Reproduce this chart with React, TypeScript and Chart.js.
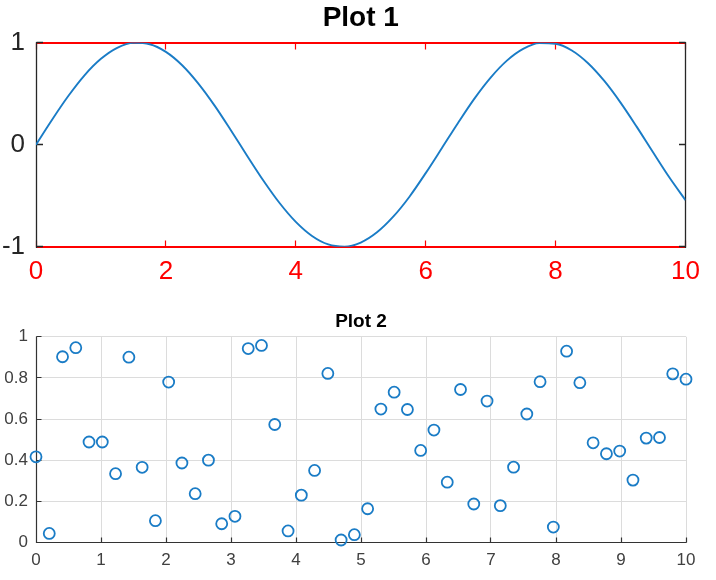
import { useEffect, useRef } from "react";
import { Chart, registerables } from "chart.js";

Chart.register(...registerables);

const FONT = '"Liberation Sans", Arial, Helvetica, sans-serif';

// ---- Plot 1: smooth wave sampled every 0.25 ----
const waveX = [
  0, 0.25, 0.5, 0.75, 1, 1.25, 1.5, 1.75, 2, 2.25, 2.5, 2.75, 3, 3.25, 3.5, 3.75,
  4, 4.25, 4.5, 4.75, 5, 5.25, 5.5, 5.75, 6, 6.25, 6.5, 6.75, 7, 7.25, 7.5, 7.75,
  8, 8.25, 8.5, 8.75, 9, 9.25, 9.5, 9.75, 10,
];
const waveY = [
  0, 0.247, 0.479, 0.682, 0.841, 0.949, 0.997, 0.984, 0.909, 0.778, 0.598, 0.382,
  0.141, -0.108, -0.351, -0.572, -0.757, -0.895, -0.978, -0.999, -0.959, -0.859,
  -0.706, -0.51, -0.279, -0.033, 0.215, 0.451, 0.657, 0.823, 0.938, 0.995, 0.989,
  0.923, 0.798, 0.624, 0.412, 0.174, -0.075, -0.32, -0.544,
];
const plot1XTicks = [0, 2, 4, 6, 8, 10];
const plot1XTickLabels = ["0", "2", "4", "6", "8", "10"];
const plot1YTicks = [-1, 0, 1];
const plot1YTickLabels = ["-1", "0", "1"];

// ---- Plot 2: scattered samples ----
const scatterX = [
  0, 0.204, 0.408, 0.612, 0.816, 1.02, 1.224, 1.429, 1.633, 1.837, 2.041, 2.245,
  2.449, 2.653, 2.857, 3.061, 3.265, 3.469, 3.673, 3.878, 4.082, 4.286, 4.49, 4.694,
  4.898, 5.102, 5.306, 5.51, 5.714, 5.918, 6.122, 6.327, 6.531, 6.735, 6.939, 7.143,
  7.347, 7.551, 7.755, 7.959, 8.163, 8.367, 8.571, 8.776, 8.98, 9.184, 9.388, 9.592,
  9.796, 10,
];
const scatterY = [
  0.417, 0.045, 0.903, 0.947, 0.489, 0.489, 0.335, 0.901, 0.366, 0.107, 0.78, 0.387,
  0.238, 0.401, 0.092, 0.128, 0.943, 0.958, 0.574, 0.057, 0.231, 0.351, 0.822, 0.013,
  0.039, 0.165, 0.649, 0.731, 0.647, 0.448, 0.547, 0.294, 0.744, 0.188, 0.688, 0.18,
  0.367, 0.625, 0.782, 0.076, 0.93, 0.777, 0.485, 0.432, 0.445, 0.304, 0.508, 0.511,
  0.82, 0.794,
];
const plot2XTicks = [0, 1, 2, 3, 4, 5, 6, 7, 8, 9, 10];
const plot2XTickLabels = ["0", "1", "2", "3", "4", "5", "6", "7", "8", "9", "10"];
const plot2YTicks = [0, 0.2, 0.4, 0.6, 0.8, 1];
const plot2YTickLabels = ["0", "0.2", "0.4", "0.6", "0.8", "1"];

const BLUE = "#1a7cc6";
const RED = "#ff0000";
const DARK = "#262626";

const crisp = (v: number) => Math.floor(v) + 0.5;

const fixedTicks = (values: number[]) => (scale: any) => {
  scale.ticks = values.map((value) => ({ value }));
};
const labelFrom = (values: number[], labels: string[]) => (v: any) => {
  const i = values.indexOf(Number(v));
  return i >= 0 ? labels[i] : "";
};

// Boxed frame with inward tick marks (red horizontal edges, dark vertical edges)
const boxFramePlugin = {
  id: "boxFrame",
  beforeDatasetsDraw(chart: any) {
    const { ctx, chartArea: a, scales } = chart;
    const L = crisp(a.left), R = crisp(a.right);
    const T = Math.round(a.top), B = Math.round(a.bottom);
    const len = 6.5;
    ctx.save();
    ctx.lineWidth = 2;
    ctx.strokeStyle = RED;
    ctx.beginPath();
    ctx.moveTo(L, T); ctx.lineTo(R, T);
    ctx.moveTo(L, B); ctx.lineTo(R, B);
    ctx.stroke();
    ctx.lineWidth = 1.2;
    ctx.beginPath();
    plot1XTicks.forEach((v) => {
      const x = crisp(scales.x.getPixelForValue(v));
      ctx.moveTo(x, B); ctx.lineTo(x, B - len);
      ctx.moveTo(x, T); ctx.lineTo(x, T + len);
    });
    ctx.stroke();
    ctx.strokeStyle = DARK;
    ctx.lineWidth = 1.3;
    ctx.beginPath();
    ctx.moveTo(L, T - 1); ctx.lineTo(L, B + 1);
    ctx.moveTo(R, T - 1); ctx.lineTo(R, B + 1);
    plot1YTicks.forEach((v) => {
      const y = crisp(scales.y.getPixelForValue(v));
      ctx.moveTo(L, y); ctx.lineTo(L + len, y);
      ctx.moveTo(R, y); ctx.lineTo(R - len, y);
    });
    ctx.stroke();
    ctx.restore();
  },
};

// Open frame: left and bottom axis lines with inward ticks
const openFramePlugin = {
  id: "openFrame",
  beforeDatasetsDraw(chart: any) {
    const { ctx, chartArea: a, scales } = chart;
    const L = crisp(a.left), R = crisp(a.right), T = crisp(a.top), B = crisp(a.bottom);
    const len = 5;
    ctx.save();
    ctx.lineWidth = 1.2;
    ctx.strokeStyle = "#333333";
    ctx.beginPath();
    ctx.moveTo(L, T); ctx.lineTo(L, B); ctx.lineTo(R, B);
    plot2XTicks.forEach((v) => {
      const x = crisp(scales.x.getPixelForValue(v));
      ctx.moveTo(x, B); ctx.lineTo(x, B - len);
    });
    plot2YTicks.forEach((v) => {
      const y = crisp(scales.y.getPixelForValue(v));
      ctx.moveTo(L, y); ctx.lineTo(L + len, y);
    });
    ctx.stroke();
    ctx.restore();
  },
};

export default function App() {
  const topRef = useRef<HTMLCanvasElement | null>(null);
  const bottomRef = useRef<HTMLCanvasElement | null>(null);

  useEffect(() => {
    if (!topRef.current || !bottomRef.current) return;

    const wave = new Chart(topRef.current, {
      type: "line",
      data: {
        datasets: [
          {
            data: waveX.map((x, i) => ({ x, y: waveY[i] })),
            borderColor: BLUE,
            borderWidth: 1.9,
            pointRadius: 0,
            cubicInterpolationMode: "monotone",
            fill: false,
          },
        ],
      },
      options: {
        responsive: false,
        animation: false,
        layout: { padding: { left: 0, right: 30.5, top: 0, bottom: 0 } },
        plugins: {
          legend: { display: false },
          tooltip: { enabled: false },
          title: {
            display: true,
            fullSize: false,
            text: "Plot 1",
            color: "#000000",
            font: { family: FONT, size: 28, weight: "bold" },
            padding: { top: 1, bottom: 8 },
          },
        },
        scales: {
          x: {
            type: "linear",
            position: "bottom",
            min: 0,
            max: 10,
            afterBuildTicks: fixedTicks(plot1XTicks),
            afterFit: (s: any) => { s.height = 43.3; },
            grid: { display: false, drawTicks: false },
            border: { display: false },
            ticks: {
              color: RED,
              font: { family: FONT, size: 26 },
              padding: 10,
              maxRotation: 0,
              autoSkip: false,
              callback: labelFrom(plot1XTicks, plot1XTickLabels),
            },
          },
          y: {
            type: "linear",
            min: -1,
            max: 1,
            afterBuildTicks: fixedTicks(plot1YTicks),
            afterFit: (s: any) => { s.width = 36; },
            grid: { display: false, drawTicks: false },
            border: { display: false },
            ticks: {
              color: DARK,
              font: { family: FONT, size: 26 },
              padding: 11,
              autoSkip: false,
              callback: labelFrom(plot1YTicks, plot1YTickLabels),
            },
          },
        },
      },
      plugins: [boxFramePlugin],
    } as any);

    const scatter = new Chart(bottomRef.current, {
      type: "scatter",
      data: {
        datasets: [
          {
            data: scatterX.map((x, i) => ({ x, y: scatterY[i] })),
            pointStyle: "circle",
            pointRadius: 5.5,
            pointBorderWidth: 1.8,
            pointBorderColor: BLUE,
            pointBackgroundColor: "rgba(0,0,0,0)",
            showLine: false,
            clip: false,
          },
        ],
      },
      options: {
        responsive: false,
        animation: false,
        layout: { padding: { left: 0, right: 30, top: 0, bottom: 0 } },
        plugins: {
          legend: { display: false },
          tooltip: { enabled: false },
          title: {
            display: true,
            fullSize: false,
            text: "Plot 2",
            color: "#000000",
            font: { family: FONT, size: 19, weight: "bold" },
            padding: { top: 20, bottom: 4 },
          },
        },
        scales: {
          x: {
            type: "linear",
            min: 0,
            max: 10,
            afterBuildTicks: fixedTicks(plot2XTicks),
            afterFit: (s: any) => { s.height = 37.3; },
            grid: { color: "#dcdcdc", lineWidth: 1, drawTicks: false },
            border: { display: false },
            ticks: {
              color: "#404040",
              font: { family: FONT, size: 17 },
              padding: 7,
              maxRotation: 0,
              autoSkip: false,
              callback: labelFrom(plot2XTicks, plot2XTickLabels),
            },
          },
          y: {
            type: "linear",
            min: 0,
            max: 1,
            afterBuildTicks: fixedTicks(plot2YTicks),
            afterFit: (s: any) => { s.width = 36; },
            grid: { color: "#dcdcdc", lineWidth: 1, drawTicks: false },
            border: { display: false },
            ticks: {
              color: "#404040",
              font: { family: FONT, size: 17 },
              padding: 8,
              autoSkip: false,
              callback: labelFrom(plot2YTicks, plot2YTickLabels),
            },
          },
        },
      },
      plugins: [openFramePlugin],
    } as any);

    return () => {
      wave.destroy();
      scatter.destroy();
    };
  }, []);

  return (
    <div style={{ position: "absolute", left: 0, top: 0, width: 716, height: 580, background: "#ffffff" }}>
      <canvas ref={topRef} width={716} height={290} style={{ position: "absolute", left: 0, top: 0, display: "block" }} />
      <canvas ref={bottomRef} width={716} height={290} style={{ position: "absolute", left: 0, top: 290, display: "block" }} />
    </div>
  );
}
